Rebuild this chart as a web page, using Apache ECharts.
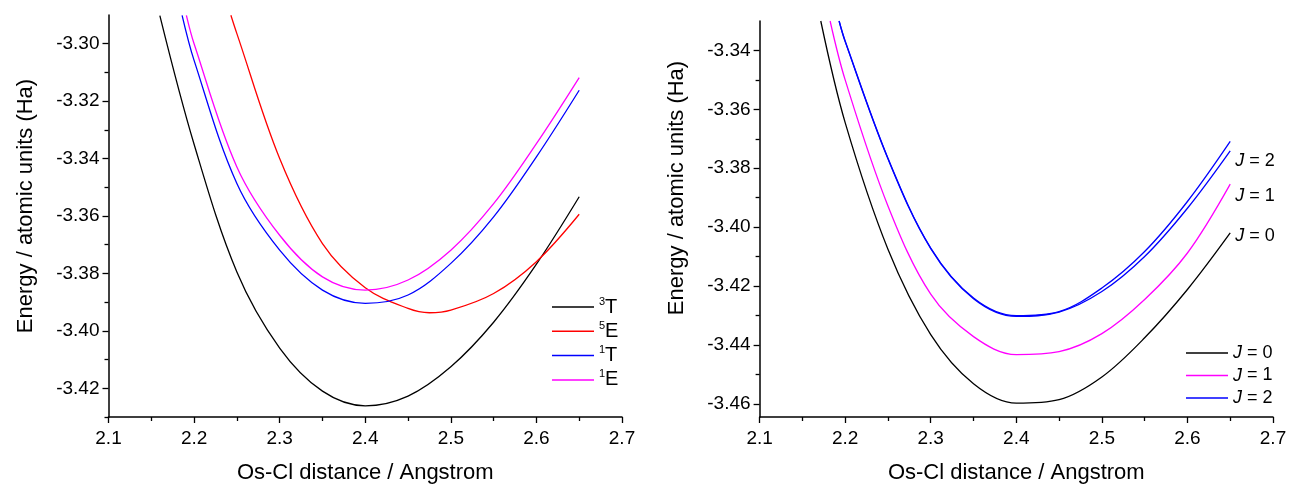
<!DOCTYPE html>
<html><head><meta charset="utf-8">
<script src="https://cdn.jsdelivr.net/npm/echarts@6/dist/echarts.min.js"></script>
<style>html,body{margin:0;padding:0;background:#fff}#c{width:1291px;height:487px}</style>
</head><body><div id="c"></div>
<script>
// ---- tick values ----
const xMajor = [2.1, 2.2, 2.3, 2.4, 2.5, 2.6, 2.7];
const xMinor = [2.15, 2.25, 2.35, 2.45, 2.55, 2.65];
const yMajorL = [-3.42, -3.40, -3.38, -3.36, -3.34, -3.32, -3.30];
const yMinorL = [-3.43, -3.41, -3.39, -3.37, -3.35, -3.33, -3.31];
const yMajorR = [-3.46, -3.44, -3.42, -3.40, -3.38, -3.36, -3.34];
const yMinorR = [-3.45, -3.43, -3.41, -3.39, -3.37, -3.35];

// ---- left panel data ----
const x3T = [2.16, 2.2, 2.25, 2.3, 2.35, 2.4, 2.45, 2.5, 2.55, 2.6, 2.65];
const e3T = [-3.2902, -3.3350, -3.3795, -3.4060, -3.4210, -3.4261, -3.4227, -3.4125, -3.3970, -3.3768, -3.3533];
const x5E = [2.243, 2.25, 2.3, 2.35, 2.4, 2.45, 2.475, 2.5, 2.55, 2.6, 2.65];
const e5E = [-3.2901, -3.2965, -3.3400, -3.3696, -3.3850, -3.3922, -3.3937, -3.3928, -3.3870, -3.3759, -3.3594];
const x1T = [2.186, 2.2, 2.25, 2.3, 2.35, 2.4, 2.45, 2.5, 2.55, 2.6, 2.65];
const e1T = [-3.2901, -3.3058, -3.3487, -3.3719, -3.3858, -3.3904, -3.3875, -3.3765, -3.3603, -3.3394, -3.3162];
const x1E = [2.191, 2.2, 2.25, 2.3, 2.35, 2.4, 2.45, 2.5, 2.55, 2.6, 2.65];
const e1E = [-3.2901, -3.3000, -3.3429, -3.3667, -3.3812, -3.3858, -3.3823, -3.3719, -3.3557, -3.3348, -3.3118];

// ---- right panel data ----
const xJ0 = [2.1715, 2.2, 2.25, 2.3, 2.35, 2.4, 2.45, 2.5, 2.55, 2.6, 2.65];
const eJ0 = [-3.33, -3.3645, -3.4075, -3.4365, -3.4532, -3.4598, -3.4586, -3.4509, -3.4376, -3.4212, -3.4020];
const xJ1 = [2.1824, 2.2, 2.25, 2.3, 2.35, 2.4, 2.45, 2.5, 2.55, 2.6, 2.65];
const eJ1 = [-3.33, -3.3500, -3.3928, -3.4228, -3.4372, -3.4433, -3.4423, -3.4362, -3.4246, -3.4088, -3.3854];
const xJ2 = [2.1929, 2.2, 2.25, 2.3, 2.35, 2.4, 2.45, 2.5, 2.55, 2.6, 2.65];
const eJ2a = [-3.33, -3.3368, -3.3766, -3.4071, -3.4241, -3.4301, -3.4287, -3.4207, -3.4083, -3.3913, -3.3709];
const eJ2b = [-3.33, -3.3370, -3.3768, -3.4073, -3.4243, -3.4303, -3.4289, -3.4219, -3.4100, -3.3936, -3.3741];

const FONT = '"Liberation Sans", Arial, sans-serif';
const pairs = (xs, ys) => xs.map((x, i) => [x, ys[i]]);

function xAxes(gi) {
  return [{
    gridIndex: gi, type: 'value', min: 2.1, max: 2.7, position: 'bottom',
    axisLine: { show: true, onZero: false, lineStyle: { color: '#000', width: 1.5 } },
    axisTick: { show: true, customValues: xMajor, length: 6, lineStyle: { color: '#000', width: 1.3 } },
    axisLabel: { customValues: xMajor, formatter: v => v.toFixed(1), color: '#000', fontFamily: FONT, fontSize: 19, margin: 12 },
    splitLine: { show: false },
    name: 'Os-Cl distance / Angstrom', nameLocation: 'middle', nameGap: 45,
    nameTextStyle: { color: '#000', fontFamily: FONT, fontSize: 22 }
  }, {
    gridIndex: gi, type: 'value', min: 2.1, max: 2.7, position: 'bottom',
    axisLine: { show: false, onZero: false },
    axisTick: { show: true, customValues: xMinor, length: 4, lineStyle: { color: '#000', width: 1.3 } },
    axisLabel: { show: false }, splitLine: { show: false }
  }];
}
function yAxes(gi, min, max, major, minor, padLeft) {
  return [{
    gridIndex: gi, type: 'value', min: min, max: max, position: 'left',
    axisLine: { show: true, onZero: false, lineStyle: { color: '#000', width: 1.5 } },
    axisTick: { show: true, customValues: major, length: 6, lineStyle: { color: '#000', width: 1.3 } },
    axisLabel: { customValues: major, formatter: v => v.toFixed(2), color: '#000', fontFamily: FONT, fontSize: 19, margin: 9 },
    splitLine: { show: false },
    name: 'Energy / atomic units (Ha)', nameLocation: 'middle', nameGap: 72,
    nameTextStyle: { color: '#000', fontFamily: FONT, fontSize: 22, padding: [0, 0, 0, padLeft] }
  }, {
    gridIndex: gi, type: 'value', min: min, max: max, position: 'left',
    axisLine: { show: false, onZero: false },
    axisTick: { show: true, customValues: minor, length: 4, lineStyle: { color: '#000', width: 1.3 } },
    axisLabel: { show: false }, splitLine: { show: false }
  }];
}

function line(name, xs, ys, color, xi, yi, extra) {
  return Object.assign({
    name: name, type: 'line', xAxisIndex: xi, yAxisIndex: yi,
    data: pairs(xs, ys), smooth: 0.35, symbol: 'none', showSymbol: false,
    lineStyle: { color: color, width: 1.3 }, itemStyle: { color: color },
    silent: true, animation: false
  }, extra || {});
}
const jLabel = (txt, dy) => ({
  endLabel: { show: true, formatter: txt, offset: [-3, dy], color: '#000', fontFamily: FONT, fontSize: 18,
    rich: { i: { fontStyle: 'italic', fontFamily: FONT, fontSize: 18, color: '#000' } } }
});

const sup = { '3T': ['3', 'T'], '5E': ['5', 'E'], '1T': ['1', 'T'], '1E': ['1', 'E'] };

const option = {
  animation: false,
  backgroundColor: '#fff',
  grid: [
    { left: 108.5, right: 669, top: 15, bottom: 70, outerBoundsMode: 'none' },
    { left: 759.6, right: 18, top: 21, bottom: 70, outerBoundsMode: 'none' }
  ],
  xAxis: [...xAxes(0), ...xAxes(1)],
  yAxis: [...yAxes(0, -3.43, -3.29, yMajorL, yMinorL, 20), ...yAxes(1, -3.4645, -3.33, yMajorR, yMinorR, 62)],
  legend: [{
    data: ['3T', '5E', '1T', '1E'], orient: 'vertical', left: 547, top: 291,
    icon: 'rect', itemWidth: 42, itemHeight: 1.5, itemGap: 3.3, selectedMode: false,
    formatter: n => '{s|' + sup[n][0] + '}{b|' + sup[n][1] + '}',
    textStyle: { color: '#000', fontFamily: FONT, rich: {
      s: { fontSize: 11, fontFamily: FONT, color: '#000', verticalAlign: 'top', lineHeight: 12 },
      b: { fontSize: 20, fontFamily: FONT, color: '#000', lineHeight: 22 } } }
  }, {
    data: ['J0', 'J1', 'J2'], orient: 'vertical', left: 1181, top: 338,
    icon: 'rect', itemWidth: 42, itemHeight: 1.5, itemGap: 2.5, selectedMode: false,
    formatter: n => '{i|J}{n| = ' + n.slice(1) + '}',
    textStyle: { color: '#000', fontFamily: FONT, fontSize: 18, lineHeight: 20, rich: {
      i: { fontStyle: 'italic', fontFamily: FONT, fontSize: 18, color: '#000', lineHeight: 20 },
      n: { fontFamily: FONT, fontSize: 18, color: '#000', lineHeight: 20 } } }
  }],
  series: [
    line('3T', x3T, e3T, '#000000', 0, 0),
    line('5E', x5E, e5E, '#ff0000', 0, 0),
    line('1T', x1T, e1T, '#0000ff', 0, 0),
    line('1E', x1E, e1E, '#ff00ff', 0, 0),
    line('J0', xJ0, eJ0, '#000000', 2, 2, jLabel('{i|J} = 0', 3)),
    line('J1', xJ1, eJ1, '#ff00ff', 2, 2, jLabel('{i|J} = 1', 12)),
    line('J2', xJ2, eJ2a, '#0000ff', 2, 2),
    line('J2b', xJ2, eJ2b, '#0000ff', 2, 2, jLabel('{i|J} = 2', 10))
  ]
};
const chart = echarts.init(document.getElementById('c'), null, { renderer: 'canvas' });
chart.setOption(option);
</script></body></html>
